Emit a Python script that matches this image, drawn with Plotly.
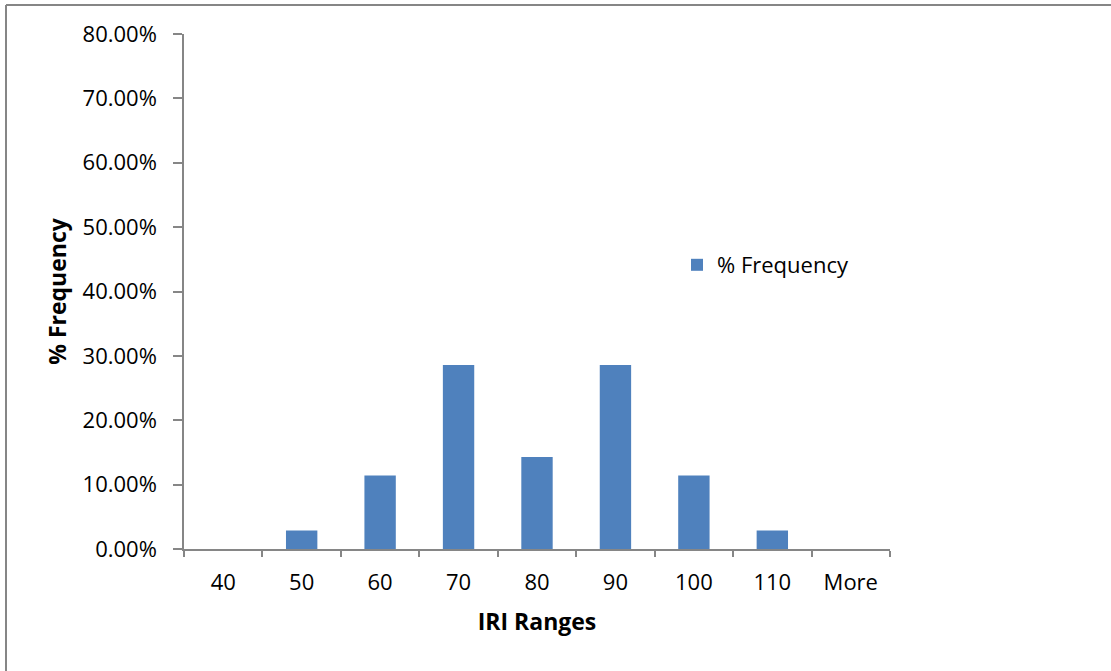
import plotly.graph_objects as go

# IRI range bins and their share of the total count
iri_ranges = ["40", "50", "60", "70", "80", "90", "100", "110", "More"]
pct_frequency = [0.0, 2.86, 11.43, 28.57, 14.29, 28.57, 11.43, 2.86, 0.0]
y_ticks = [0, 10, 20, 30, 40, 50, 60, 70, 80]
y_tick_labels = [f"{v:.2f}%" for v in y_ticks]

W, H = 1111, 671
L, R, T, B = 184, 221, 34, 122

FONT = "Open Sans"
AXIS_GREY = "#868686"
TICK_SIZE = 22
TITLE_SIZE = 23

fig = go.Figure()
fig.add_trace(go.Bar(
    x=iri_ranges,
    y=pct_frequency,
    name="% Frequency",
    marker=dict(color="#4F81BD", line=dict(width=0)),
    width=0.4,
))

pw = W - L - R
ph = H - T - B

def px_x(p):
    return (p - L) / pw

def px_y(p):
    return (H - B - p) / ph

fig.update_layout(
    width=W, height=H,
    margin=dict(l=L, r=R, t=T, b=B),
    paper_bgcolor="white",
    plot_bgcolor="white",
    font=dict(family=FONT, color="#000000", size=TICK_SIZE),
    showlegend=True,
    legend=dict(
        x=px_x(677), y=px_y(265),
        xanchor="left", yanchor="middle",
        font=dict(family=FONT, size=TICK_SIZE),
        bgcolor="rgba(0,0,0,0)",
        itemwidth=30,
    ),
    xaxis=dict(
        type="category",
        tickson="boundaries",
        ticks="outside", ticklen=6, tickwidth=1.5, tickcolor=AXIS_GREY,
        ticklabelstandoff=13,
        showline=True, linecolor=AXIS_GREY, linewidth=1.5,
        showgrid=False, zeroline=False,
        tickfont=dict(family=FONT, size=TICK_SIZE),
        title=dict(text="<b>IRI Ranges</b>", font=dict(family=FONT, size=TITLE_SIZE), standoff=19),
        range=[-0.5, len(iri_ranges) - 0.5],
    ),
    yaxis=dict(
        range=[0, 80],
        tickvals=y_ticks, ticktext=y_tick_labels,
        ticks="outside", ticklen=9, tickwidth=1.5, tickcolor=AXIS_GREY,
        ticklabelstandoff=12,
        showline=True, linecolor=AXIS_GREY, linewidth=1.5,
        showgrid=False, zeroline=False,
        tickfont=dict(family=FONT, size=TICK_SIZE),
        title=dict(text="<b>% Frequency</b>", font=dict(family=FONT, size=TITLE_SIZE), standoff=10),
    ),
    shapes=[
        # chart frame: top and left edges
        dict(type="line", xref="paper", yref="paper",
             x0=px_x(6), x1=px_x(W), y0=px_y(5), y1=px_y(5),
             line=dict(color=AXIS_GREY, width=2), layer="below"),
        dict(type="line", xref="paper", yref="paper",
             x0=px_x(6), x1=px_x(6), y0=px_y(5), y1=px_y(H),
             line=dict(color=AXIS_GREY, width=2), layer="below"),
    ],
)

fig.write_html("out.html")
